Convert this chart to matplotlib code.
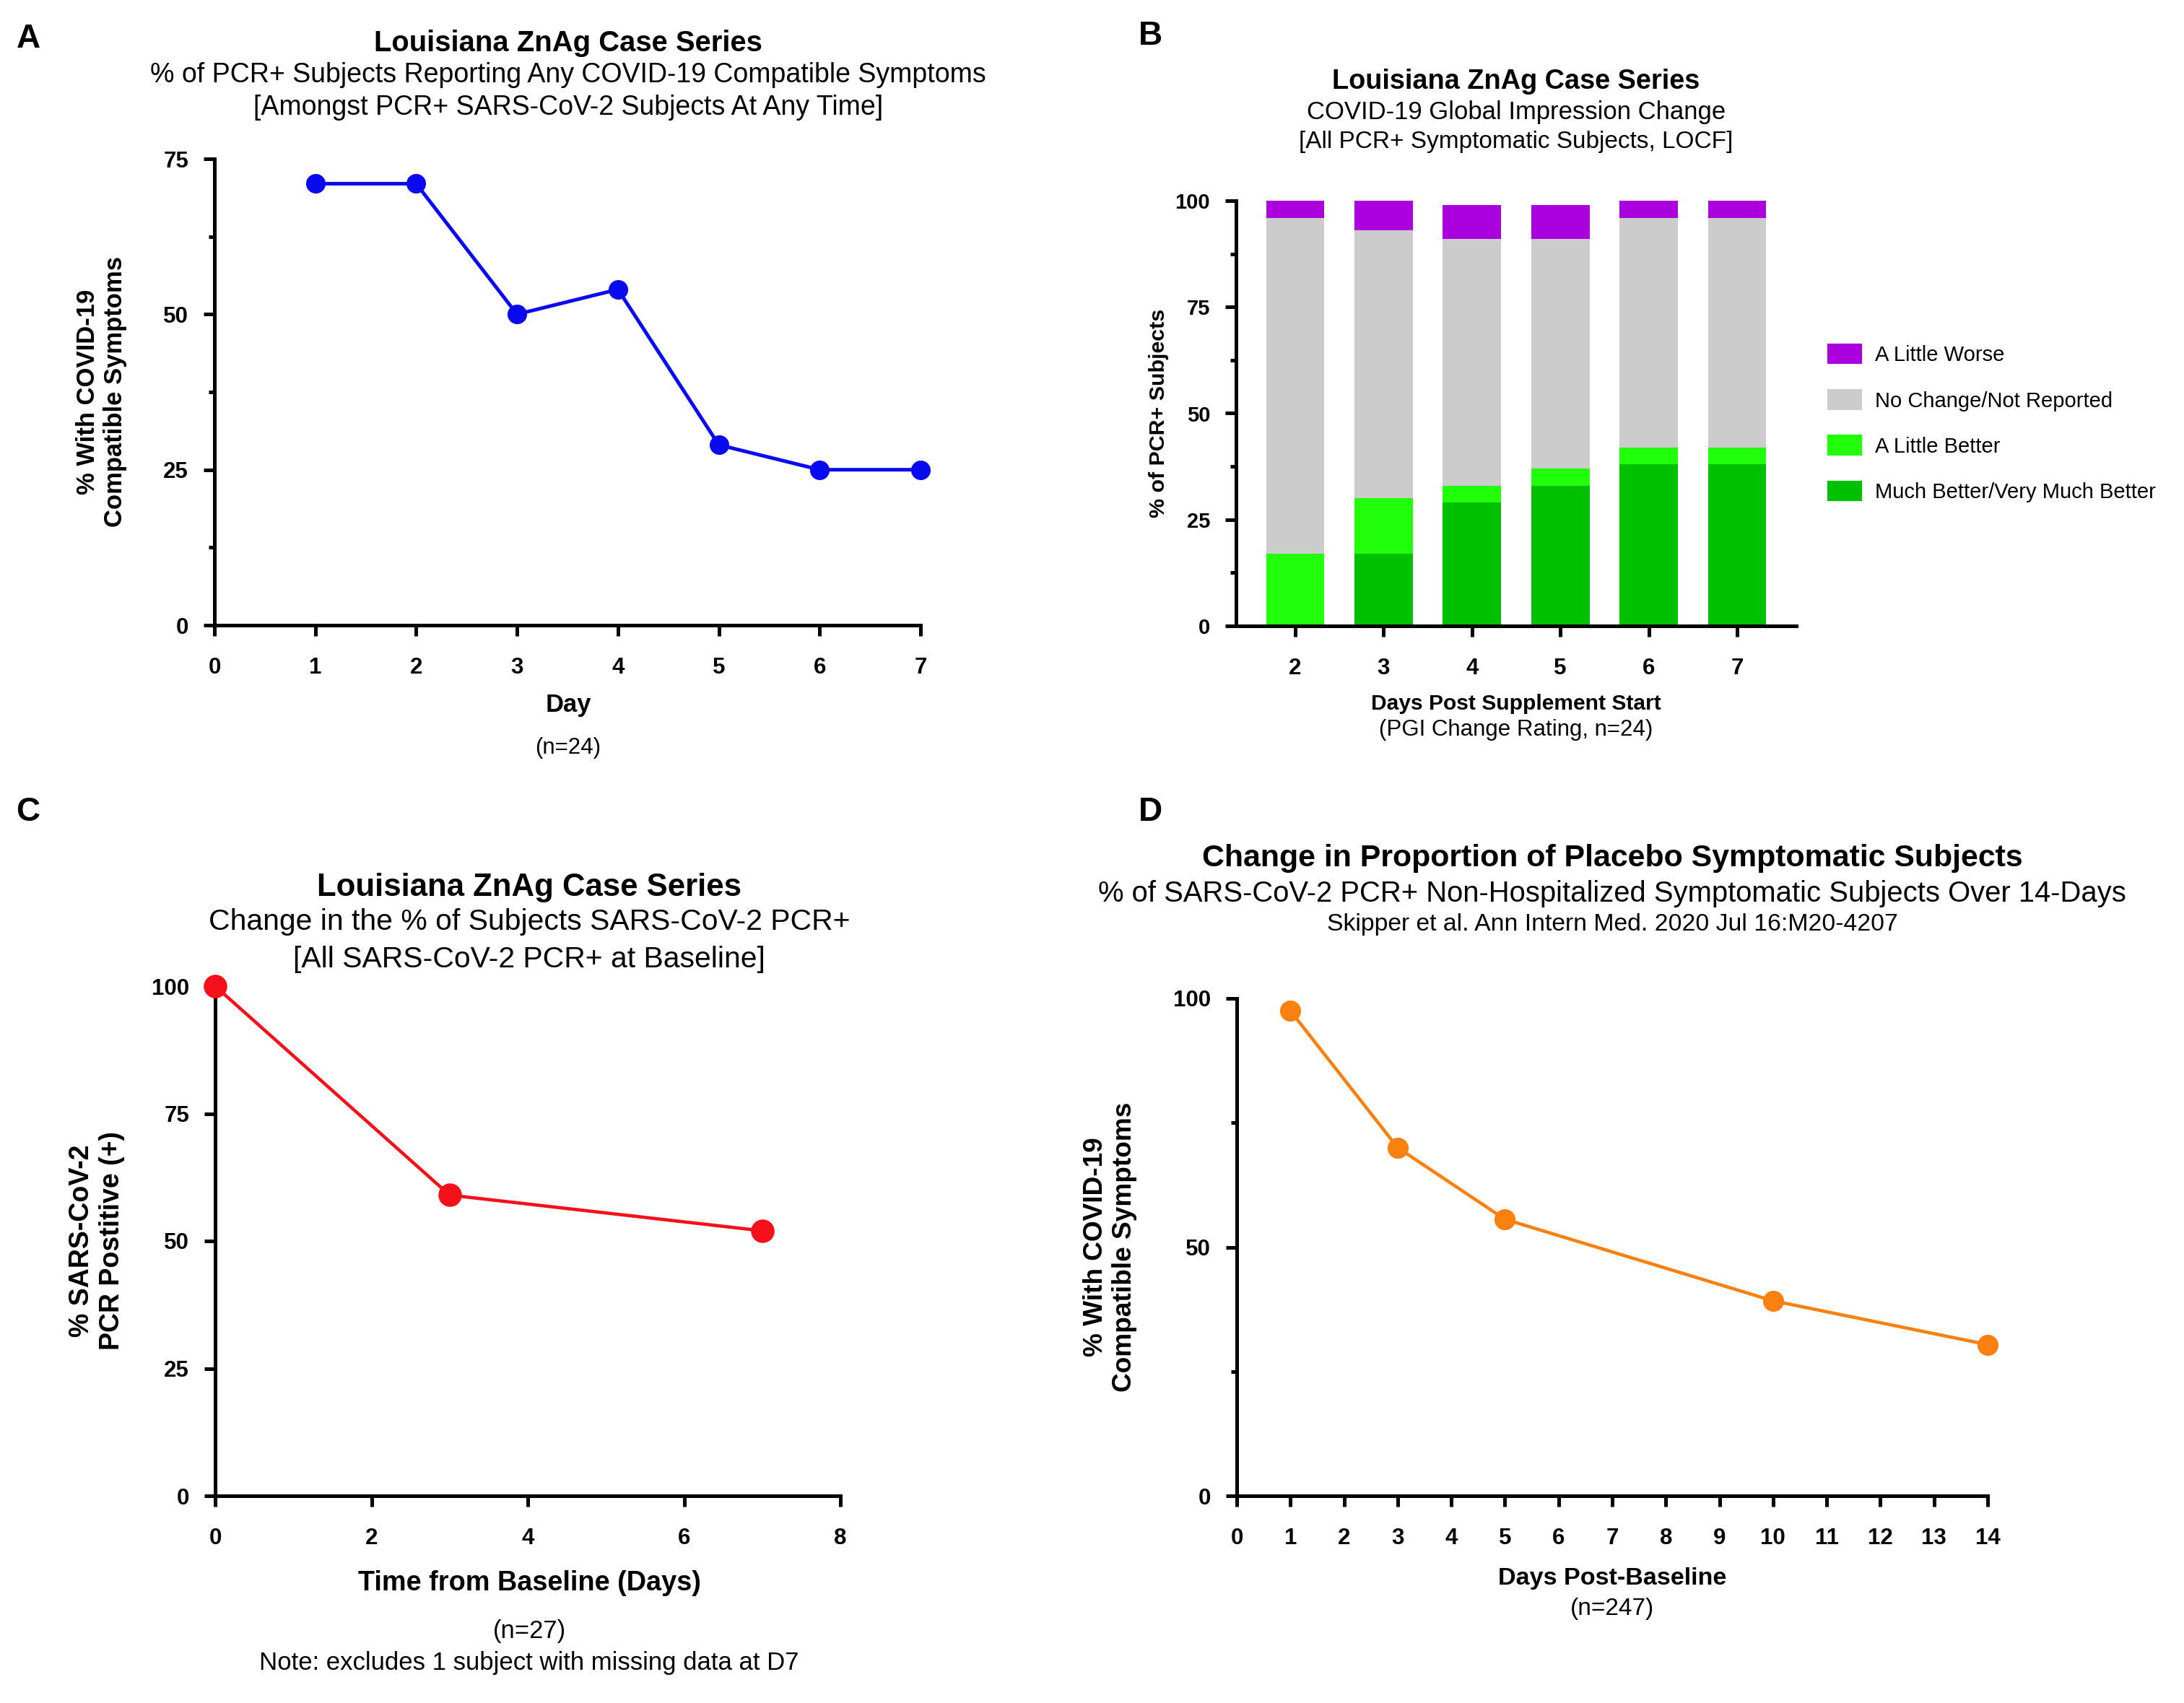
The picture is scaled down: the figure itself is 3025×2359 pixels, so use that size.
import matplotlib
matplotlib.use("Agg")
import matplotlib.pyplot as plt
import numpy as np
from matplotlib.patches import Patch

plt.rcParams['font.family'] = ['Liberation Sans', 'DejaVu Sans']

# ---- data ----
# A: % with symptoms by day
a_days = [1, 2, 3, 4, 5, 6, 7]
a_pct = [71, 71, 50, 54, 29, 25, 25]

# B: global impression change (stacked %)
b_days = [2, 3, 4, 5, 6, 7]
much_better = [0, 17, 29, 33, 38, 38]
little_better = [17, 13, 4, 4, 4, 4]
no_change = [79, 63, 58, 54, 54, 54]
little_worse = [4, 7, 8, 8, 4, 4]
b_labels = ['Much Better/Very Much Better', 'A Little Better',
            'No Change/Not Reported', 'A Little Worse']
b_colors = ['#00C000', '#22FF0A', '#CCCCCC', '#AA00DD']

# C: % PCR positive
c_days = [0, 3, 7]
c_pct = [100, 59, 52]

# D: placebo symptomatic
d_days = [1, 3, 5, 10, 14]
d_pct = [97.5, 70, 55.6, 39.2, 30.4]

W, H = 3025, 2359
fig = plt.figure(figsize=(W / 300, H / 300), dpi=300)


def px_axes(x0, y_top, x1, y_bot):
    # figure pixel box -> axes
    return fig.add_axes([x0 / W, 1 - y_bot / H, (x1 - x0) / W, (y_bot - y_top) / H])


def ftext(x, y, s, size=8, weight='normal', **kw):
    kw.setdefault('ha', 'center')
    kw.setdefault('va', 'center')
    fig.text(x / W, 1 - y / H, s, fontsize=size, fontweight=weight, **kw)


def prism_style(ax, minor_y=None):
    for sp in ['top', 'right']:
        ax.spines[sp].set_visible(False)
    for sp in ['left', 'bottom']:
        ax.spines[sp].set_linewidth(1.2)
    ax.tick_params(which='major', direction='out', length=3.6, width=1.2,
                   labelsize=7.5, pad=5)
    ax.tick_params(which='minor', direction='out', length=2.0, width=1.2)
    ax.tick_params(axis='x', pad=7)
    for lab in ax.get_xticklabels() + ax.get_yticklabels():
        lab.set_fontweight('bold')
    if minor_y is not None:
        ax.set_yticks(minor_y, minor=True)


# ---- panel A ----
axA = px_axes(297, 220, 1275, 866)
axA.plot(a_days, a_pct, color='#0A0AF0', lw=1.2, marker='o', ms=5.5, clip_on=False)
axA.set_xlim(0, 7)
axA.set_ylim(0, 75)
axA.set_xticks(range(0, 8))
axA.set_yticks([0, 25, 50, 75])
prism_style(axA, minor_y=[12.5, 37.5, 62.5])
axA.set_ylabel('% With COVID-19\nCompatible Symptoms', fontsize=8.3, fontweight='bold', labelpad=12)

ftext(39, 54, 'A', size=11, weight='bold')
ftext(787, 60, 'Louisiana ZnAg Case Series', size=9.6, weight='bold')
ftext(787, 104, '% of PCR+ Subjects Reporting Any COVID-19 Compatible Symptoms', size=9)
ftext(787, 149, '[Amongst PCR+ SARS-CoV-2 Subjects At Any Time]', size=9)
ftext(787, 976, 'Day', size=8.3, weight='bold')
ftext(787, 1036, '(n=24)', size=7.5)

# ---- panel B ----
axB = px_axes(1712, 278, 2488, 867)
bottom = np.zeros(len(b_days))
handles = []
for vals, lab, col in zip([much_better, little_better, no_change, little_worse], b_labels, b_colors):
    axB.bar(b_days, vals, bottom=bottom, width=0.66, color=col, label=lab)
    bottom += np.array(vals)
    handles.append(Patch(color=col, label=lab))
axB.set_xlim(2 - 0.67, 7 + 0.67)
axB.set_ylim(0, 100)
axB.set_xticks(b_days)
axB.set_yticks([0, 25, 50, 75, 100])
prism_style(axB, minor_y=[12.5, 37.5, 62.5, 87.5])
axB.tick_params(axis='y', labelsize=7)
axB.set_ylabel('% of PCR+ Subjects', fontsize=7.3, fontweight='bold', labelpad=2)
axB.legend(handles=handles[::-1], loc='center left', bbox_to_anchor=(2533 / W, 1 - 587 / H),
           bbox_transform=fig.transFigure, frameon=False, fontsize=7, borderpad=0,
           borderaxespad=0, handlelength=1.5, handleheight=0.9, handletextpad=0.7,
           labelspacing=1.2)

ftext(1593, 50, 'B', size=11, weight='bold')
ftext(2100, 113, 'Louisiana ZnAg Case Series', size=9.1, weight='bold')
ftext(2100, 155, 'COVID-19 Global Impression Change', size=8.3)
ftext(2100, 196, '[All PCR+ Symptomatic Subjects, LOCF]', size=8.0)
ftext(2100, 975, 'Days Post Supplement Start', size=7.2, weight='bold')
ftext(2100, 1011, '(PGI Change Rating, n=24)', size=7.5)

# ---- panel C ----
axC = px_axes(298, 1366, 1164, 2072)
axC.plot(c_days, c_pct, color='#F5101A', lw=1.1, marker='o', ms=6.8, clip_on=False, zorder=3)
axC.set_xlim(0, 8)
axC.set_ylim(0, 100)
axC.set_xticks([0, 2, 4, 6, 8])
axC.set_yticks([0, 25, 50, 75, 100])
prism_style(axC)
axC.set_ylabel('% SARS-CoV-2\nPCR Postitive (+)', fontsize=9, fontweight='bold', labelpad=9)

ftext(39, 1125, 'C', size=11, weight='bold')
ftext(733, 1229, 'Louisiana ZnAg Case Series', size=10.5, weight='bold')
ftext(733, 1277, 'Change in the % of Subjects SARS-CoV-2 PCR+', size=9.8)
ftext(733, 1329, '[All SARS-CoV-2 PCR+ at Baseline]', size=9.8)
ftext(733, 2193, 'Time from Baseline (Days)', size=9.1, weight='bold')
ftext(733, 2259, '(n=27)', size=8.3)
ftext(733, 2303, 'Note: excludes 1 subject with missing data at D7', size=8.35)

# ---- panel D ----
axD = px_axes(1713, 1383, 2753, 2072)
axD.plot(d_days, d_pct, color='#FA8010', lw=1.1, marker='o', ms=6, clip_on=False)
axD.set_xlim(0, 14)
axD.set_ylim(0, 100)
axD.set_xticks(range(0, 15))
axD.set_yticks([0, 50, 100])
prism_style(axD, minor_y=[25, 75])
axD.set_ylabel('% With COVID-19\nCompatible Symptoms', fontsize=8.9, fontweight='bold', labelpad=12)

ftext(1593, 1125, 'D', size=11, weight='bold')
ftext(2233, 1189, 'Change in Proportion of Placebo Symptomatic Subjects', size=10.3, weight='bold')
ftext(2233, 1238, '% of SARS-CoV-2 PCR+ Non-Hospitalized Symptomatic Subjects Over 14-Days', size=9.6)
ftext(2233, 1280, 'Skipper et al. Ann Intern Med. 2020 Jul 16:M20-4207', size=8.1)
ftext(2233, 2186, 'Days Post-Baseline', size=8.2, weight='bold')
ftext(2233, 2229, '(n=247)', size=8.0)

fig.savefig('out.png', dpi=300)
